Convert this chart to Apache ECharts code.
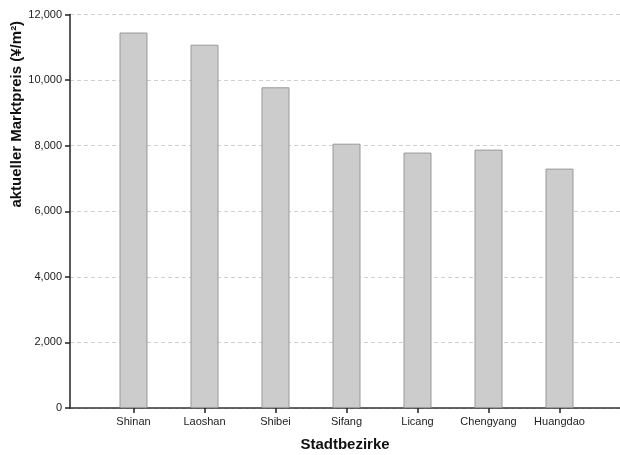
<!DOCTYPE html>
<html><head><meta charset="utf-8">
<script src="https://cdn.jsdelivr.net/npm/echarts@6/dist/echarts.min.js"></script>
<style>html,body{margin:0;padding:0;background:#fff}#c{width:620px;height:455px}</style>
</head><body><div id="c"></div>
<script>
var categories = ['Shinan','Laoshan','Shibei','Sifang','Licang','Chengyang','Huangdao'];
var prices = [11450, 11080, 9780, 8060, 7790, 7880, 7300];
var yTicks = [0, 2000, 4000, 6000, 8000, 10000, 12000];

var font = 'Liberation Sans, Arial, sans-serif';
var chart = echarts.init(document.getElementById('c'), null, {renderer:'canvas'});
chart.setOption({
  animation: false,
  grid: [
    {left: 98, right: 25, top: 14.5, bottom: 47, containLabel: false, outerBoundsMode: 'none'},
    {left: 70, right: 0, top: 14.5, bottom: 47, containLabel: false, outerBoundsMode: 'none'}
  ],
  xAxis: [
    {gridIndex: 0, type: 'category', data: categories,
     axisLine: {show: false},
     axisTick: {show: true, alignWithLabel: true, length: 5, lineStyle: {color: '#222', width: 1.5}},
     axisLabel: {fontFamily: font, fontSize: 11, color: '#222', margin: 8, interval: 0, hideOverlap: false}},
    {gridIndex: 1, type: 'value', min: 0, max: 1,
     axisLine: {show: true, lineStyle: {color: '#333', width: 1.5}},
     axisTick: {show: false}, axisLabel: {show: false}, splitLine: {show: false},
     name: 'Stadtbezirke', nameLocation: 'middle', nameGap: 29, nameMoveOverlap: false,
     nameTextStyle: {fontFamily: font, fontSize: 15, fontWeight: 'bold', color: '#111'}}
  ],
  yAxis: [
    {gridIndex: 0, type: 'value', min: 0, max: 12000, interval: 2000, show: false},
    {gridIndex: 1, type: 'value', min: yTicks[0], max: yTicks[yTicks.length-1], interval: 2000,
     axisLine: {show: true, lineStyle: {color: '#222', width: 1.5}},
     axisTick: {show: true, length: 5, lineStyle: {color: '#222', width: 1.5}},
     axisLabel: {fontFamily: font, fontSize: 11, color: '#222', margin: 8,
       formatter: function(v){ return v.toLocaleString('en-US'); }},
     splitLine: {show: true, lineStyle: {color: '#d0d0d0', type: [4,3], width: 1}},
     name: 'aktueller Marktpreis (¥/m²)', nameLocation: 'middle', nameGap: 46, nameMoveOverlap: false,
     nameTextStyle: {fontFamily: font, fontSize: 15, fontWeight: 'bold', color: '#111',
       padding: [0, 0, 0, 194]}}
  ],
  series: [{
    type: 'bar', xAxisIndex: 0, yAxisIndex: 0, data: prices, barWidth: 28,
    itemStyle: {color: '#cccccc', borderColor: '#999999', borderWidth: 1}
  }]
});
</script></body></html>
